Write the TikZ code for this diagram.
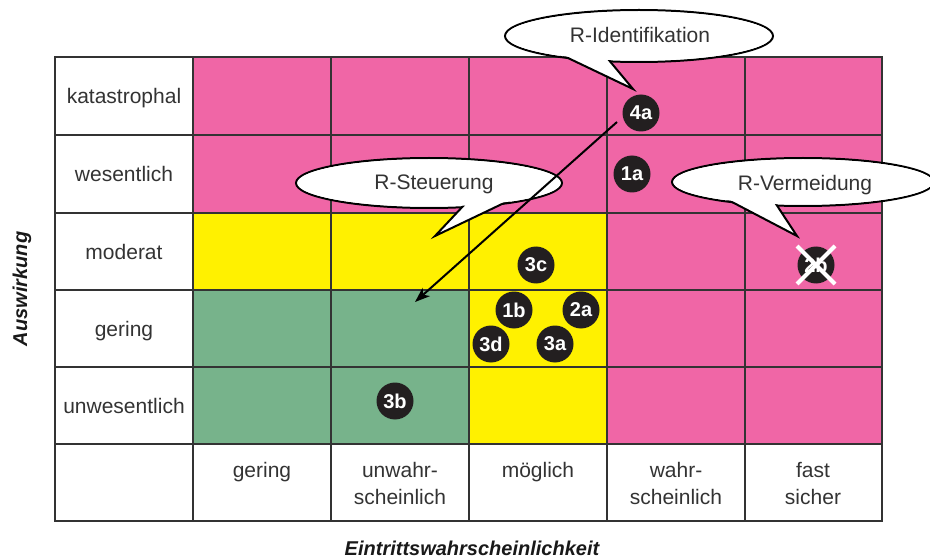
\documentclass[tikz,border=0pt]{standalone}
\usepackage{fontspec}
\setmainfont{Liberation Sans}
\usetikzlibrary{arrows.meta}
\definecolor{rpink}{HTML}{F066A6}
\definecolor{ryellow}{HTML}{FFF100}
\definecolor{rgreen}{HTML}{77B38B}
\definecolor{rtext}{HTML}{333333}
\definecolor{rbadge}{HTML}{231F20}
\begin{document}
\begin{tikzpicture}[x=1pt,y=-1pt,
  lbl/.style={text=rtext,font=\fontsize{21}{25}\selectfont,inner sep=0pt,anchor=base},
  badge/.style={circle,fill=rbadge,minimum size=37pt,inner sep=0pt,text=white,font=\fontsize{20}{24}\selectfont\bfseries},
  axislbl/.style={text=black!90,font=\fontsize{20}{24}\selectfont\bfseries\itshape,inner sep=0pt},
  gridline/.style={line width=1.3pt,draw=rtext},
  cshape/.style={fill=white,draw=black,line width=2pt,line join=miter},
  ctext/.style={text=rtext,font=\fontsize{21}{25}\selectfont,inner sep=0pt,anchor=base},
]
\useasboundingbox (0,0) rectangle (930,559);
% cells
\fill[rpink] (193,57) rectangle (882,213);
\fill[rpink] (607,213) rectangle (882,444);
\fill[ryellow] (193,213) rectangle (607,290);
\fill[ryellow] (469,290) rectangle (607,444);
\fill[rgreen] (193,290) rectangle (469,444);
% grid
\foreach \x in {193,331,469,607,745} \draw[gridline] (\x,57) -- (\x,521);
\foreach \y in {135,213,290,367,444} \draw[gridline] (55,\y) -- (882,\y);
\draw[line width=2.5pt,draw=rtext] (55,57) rectangle (882,521);
% row labels
\node[lbl] (rk) at (124,103.5) {katastrophal};
\node[lbl] (rw) at (124,181.5) {wesentlich};
\node[lbl] (rm) at (124,259) {moderat};
\node[lbl] (rg) at (124,336) {gering};
\node[lbl] (ru) at (124,413) {unwesentlich};
% column labels
\node[lbl] (cg) at (262,477) {gering};
\node[lbl] (cu1) at (400,477) {unwahr-};
\node[lbl] (cu2) at (400,504) {scheinlich};
\node[lbl] (cm) at (538,477) {möglich};
\node[lbl] (cw1) at (676,477) {wahr-};
\node[lbl] (cw2) at (676,504) {scheinlich};
\node[lbl] (cf1) at (813,477) {fast};
\node[lbl] (cf2) at (813,504) {sicher};
% axis labels
\node[axislbl,rotate=90] (ay) at (22,289) {Auswirkung};
\node[axislbl] (ax) at (472,548) {Eintrittswahrscheinlichkeit};
% badges
\node[badge] (b4a) at (641,113) {4a};
\node[badge] (b1a) at (632,174) {1a};
\node[badge] (b3c) at (536,265) {3c};
\node[badge] (b1b) at (514,310) {1b};
\node[badge] (b2a) at (581,310) {2a};
\node[badge] (b3d) at (491,344) {3d};
\node[badge] (b3a) at (555,344) {3a};
\node[badge] (b3b) at (395,401) {3b};
\node[badge] (b2b) at (816,265) {2b};
\draw[white,line width=4pt] ([shift={(-19,-19)}]b2b.center) -- ([shift={(19,19)}]b2b.center);
\draw[white,line width=4pt] ([shift={(19,-19)}]b2b.center) -- ([shift={(-19,19)}]b2b.center);
% callout R-Identifikation
\draw[cshape] (639,36) ellipse [x radius=134, y radius=26];
\filldraw[cshape] (548.5,48.7) -- (633,89) -- (603.1,53.1);
\fill[white] (639,36) ellipse [x radius=132.5, y radius=24.5];
\node[ctext] (tId) at (640,43) {R-Identifikation};
% callout R-Steuerung
\draw[cshape] (429,183) ellipse [x radius=133, y radius=25];
\filldraw[cshape] (470.1,198.6) -- (435,236) -- (522.1,194.4);
\fill[white] (429,183) ellipse [x radius=131.5, y radius=23.5];
\node[ctext] (tSt) at (434,190) {R-Steuerung};
% callout R-Vermeidung
\draw[cshape] (803,182) ellipse [x radius=131, y radius=24];
\filldraw[cshape] (712.5,191.8) -- (797,236) -- (771,196.4);
\fill[white] (803,182) ellipse [x radius=129.5, y radius=22.5];
\node[ctext] (tVe) at (805,191) {R-Vermeidung};
% arrow
\coordinate (aS) at (617,122);
\coordinate (aE) at (415,302);
\draw[line width=2pt,-{Stealth[length=15pt,width=11pt,inset=4pt]}] (aS) -- (aE);
\end{tikzpicture}
\end{document}
